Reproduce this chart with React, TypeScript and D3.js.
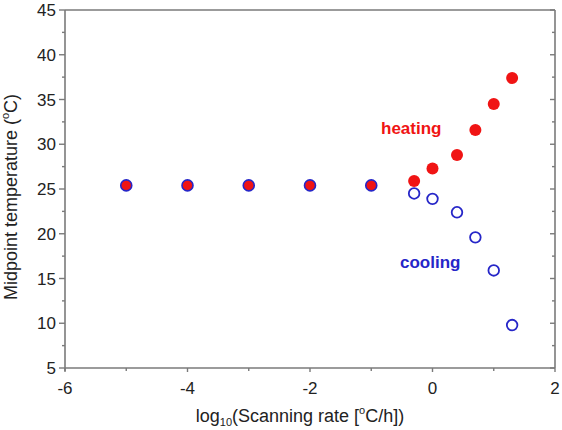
import React from "react";
import * as d3 from "d3";

const commonX = [-5, -4, -3, -2, -1];
const commonY = [25.4, 25.4, 25.4, 25.4, 25.4];
const heatX = [-0.3, 0, 0.4, 0.7, 1.0, 1.3];
const heatY = [25.9, 27.3, 28.8, 31.6, 34.5, 37.4];
const coolX = [-0.3, 0, 0.4, 0.7, 1.0, 1.3];
const coolY = [24.5, 23.9, 22.4, 19.6, 15.9, 9.8];
const xMajor = [-6, -4, -2, 0, 2];
const xMinor = [-5, -3, -1, 1];
const yMajor = [5, 10, 15, 20, 25, 30, 35, 40, 45];
const yMinor = [7.5, 12.5, 17.5, 22.5, 27.5, 32.5, 37.5, 42.5];

const W = 562, H = 430;
const L = 65, R = 555, T = 10, B = 368;
const axisColor = "#7a7a7a";
const textColor = "#222";
const font = "Arial, 'Liberation Sans', sans-serif";

export default function App() {
  const x = d3.scaleLinear().domain([-6, 2]).range([L, R]);
  const y = d3.scaleLinear().domain([5, 45]).range([B, T]);
  const red = "#f01414";
  const blue = "#2626c8";
  return (
    <svg width={W} height={H} style={{ position: "absolute", left: 0, top: 0, background: "#fff" }}>
      {/* frame */}
      <line x1={L} x2={R} y1={T} y2={T} stroke={axisColor} strokeWidth={1.6} />
      <line x1={R} x2={R} y1={T} y2={B} stroke={axisColor} strokeWidth={1.6} />
      <line x1={L} x2={R} y1={B} y2={B} stroke={axisColor} strokeWidth={1.6} />
      <line x1={L} x2={L} y1={T} y2={B + 3} stroke={axisColor} strokeWidth={1.6} />
      {/* y ticks */}
      {yMajor.map((v) => (
        <g key={"ym" + v}>
          <line x1={L - 6} x2={L} y1={y(v)} y2={y(v)} stroke={axisColor} strokeWidth={1.4} />
          <line x1={R - 5} x2={R} y1={y(v)} y2={y(v)} stroke={axisColor} strokeWidth={1.4} />
          <text x={L - 9} y={y(v)} dy="0.36em" textAnchor="end" fontSize={17} fontFamily={font} fill={textColor}>{v}</text>
        </g>
      ))}
      {yMinor.map((v) => (
        <g key={"yn" + v}>
          <line x1={L - 3} x2={L} y1={y(v)} y2={y(v)} stroke={axisColor} strokeWidth={1.4} />
          <line x1={R - 3} x2={R} y1={y(v)} y2={y(v)} stroke={axisColor} strokeWidth={1.4} />
        </g>
      ))}
      {/* x ticks */}
      {xMajor.map((v) => (
        <g key={"xm" + v}>
          <line x1={x(v)} x2={x(v)} y1={B} y2={B + 4} stroke={axisColor} strokeWidth={1.4} />
          <text x={x(v)} y={B + 26} textAnchor="middle" fontSize={17} fontFamily={font} fill={textColor}>{v}</text>
        </g>
      ))}
      {xMinor.map((v) => (
        <line key={"xn" + v} x1={x(v)} x2={x(v)} y1={B} y2={B + 3} stroke={axisColor} strokeWidth={1.4} />
      ))}
      {/* axis labels */}
      <text x={(L + R) / 2 - 10} y={422} textAnchor="middle" fontSize={18} fontFamily={font} fill={textColor}>
        log<tspan fontSize={11} dy={4}>10</tspan><tspan dy={-4}>(Scanning rate [</tspan><tspan fontSize={11} dy={-8}>o</tspan><tspan dy={8}>C/h])</tspan>
      </text>
      <text transform={`translate(17,${(T + B) / 2 + 8}) rotate(-90)`} textAnchor="middle" fontSize={18} fontFamily={font} fill={textColor}>
        Midpoint temperature (<tspan fontSize={11} dy={-8}>o</tspan><tspan dy={8}>C)</tspan>
      </text>
      {/* data */}
      {commonX.map((v, i) => (
        <circle key={"c" + i} cx={x(v)} cy={y(commonY[i])} r={5.5} fill={red} stroke={blue} strokeWidth={1.6} />
      ))}
      {heatX.map((v, i) => (
        <circle key={"h" + i} cx={x(v)} cy={y(heatY[i])} r={6} fill={red} stroke="none" />
      ))}
      {coolX.map((v, i) => (
        <circle key={"k" + i} cx={x(v)} cy={y(coolY[i])} r={5.3} fill="none" stroke={blue} strokeWidth={1.8} />
      ))}
      <text x={381} y={134} fontSize={17} fontWeight="bold" fontFamily={font} fill={red}>heating</text>
      <text x={400} y={268} fontSize={17} fontWeight="bold" fontFamily={font} fill={blue}>cooling</text>
    </svg>
  );
}
